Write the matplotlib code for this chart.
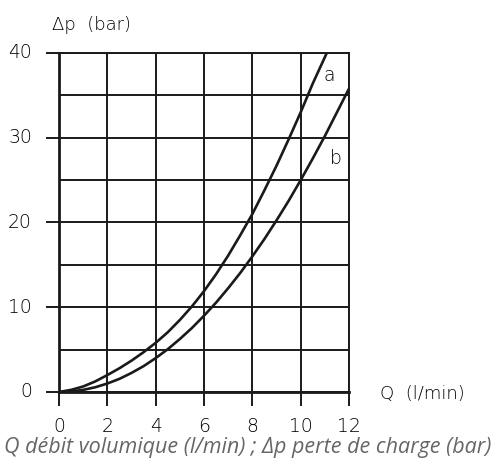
from matplotlib import pyplot as plt
from matplotlib.ticker import MultipleLocator

# valeurs (Q en l/min, delta p en bar)
q_a = [0, 0.5, 1, 1.5, 2, 2.5, 3, 3.5, 4, 4.5, 5, 5.5, 6, 6.5, 7, 7.5, 8, 8.5, 9, 9.5, 10, 10.5, 11.08]
dp_a = [0, 0.25, 0.65, 1.25, 2.0, 2.8, 3.7, 4.7, 5.8, 7.05, 8.5, 10.1, 11.9, 13.9, 16.1, 18.5, 21.0, 23.8, 26.7, 29.8, 33.0, 36.4, 40.0]
q_b = [0, 0.5, 1, 1.5, 2, 2.5, 3, 3.5, 4, 4.5, 5, 5.5, 6, 6.5, 7, 7.5, 8, 8.5, 9, 9.5, 10, 10.5, 11, 11.5, 12]
dp_b = [0, 0.06, 0.25, 0.56, 1.0, 1.55, 2.25, 3.05, 4.0, 5.05, 6.25, 7.55, 9.0, 10.55, 12.25, 14.05, 16.0, 18.05, 20.25, 22.55, 25.0, 27.55, 30.2, 33.0, 35.8]

x_ticks = [0, 2, 4, 6, 8, 10, 12]
y_ticks = [0, 10, 20, 30, 40]

plt.rcParams['font.family'] = ['DejaVu Sans']

fig = plt.figure(figsize=(4.95, 4.68), dpi=100)
ax = fig.add_axes([0.1192, 0.1624, 0.5859, 0.7244])

dark = '#1a1a1a'
ax.plot(q_a, dp_a, color=dark, lw=1.9)
ax.plot(q_b, dp_b, color=dark, lw=1.9)

ax.set_xlim(0, 12)
ax.set_ylim(0, 40)
ax.set_xticks(x_ticks)
ax.set_yticks(y_ticks)
ax.yaxis.set_minor_locator(MultipleLocator(5))
ax.grid(True, which='both', color=dark, lw=1.4)
ax.tick_params(which='both', length=0, labelbottom=False, labelleft=False)
for s in ax.spines.values():
    s.set_color(dark)
    s.set_linewidth(1.4)
ax.spines['left'].set_linewidth(2)
ax.spines['bottom'].set_linewidth(2)

# graduations qui depassent du cadre, et leurs libelles
xt = ax.get_xaxis_transform()
yt = ax.get_yaxis_transform()
for x in x_ticks:
    ax.plot([x, x], [0, -0.038], transform=xt, color=dark, lw=1.4,
            clip_on=False, zorder=5)
    ax.text(x, -0.103, str(x), transform=xt, fontsize=13.5, fontweight='light',
            ha='center', va='center')
for y in y_ticks:
    ax.plot([0, -0.043], [y, y], transform=yt, color=dark, lw=1.4,
            clip_on=False, zorder=5)
    ax.text(-0.093, y, str(y), transform=yt, fontsize=13.5, fontweight='light',
            ha='right', va='center')

ax.text(11.2, 37.4, 'a', fontsize=13.5, fontweight='light', ha='center', va='center')
ax.text(11.45, 27.6, 'b', fontsize=13.5, fontweight='light', ha='center', va='center')

fig.text(52 / 495, 1 - 25 / 468, '\u0394p  (bar)', fontsize=13, fontweight='light',
         ha='left', va='center')
fig.text(380 / 495, 1 - 394 / 468, 'Q  (l/min)', fontsize=13, fontweight='light',
         ha='left', va='center')
fig.text(0.5, 1 - 448 / 468, 'Q débit volumique (l/min) ; \u0394p perte de charge (bar)',
         fontsize=15.5, family=['Open Sans', 'DejaVu Sans'], style='italic',
         color='#666666', ha='center', va='center')

fig.savefig('out.png', dpi=100)
